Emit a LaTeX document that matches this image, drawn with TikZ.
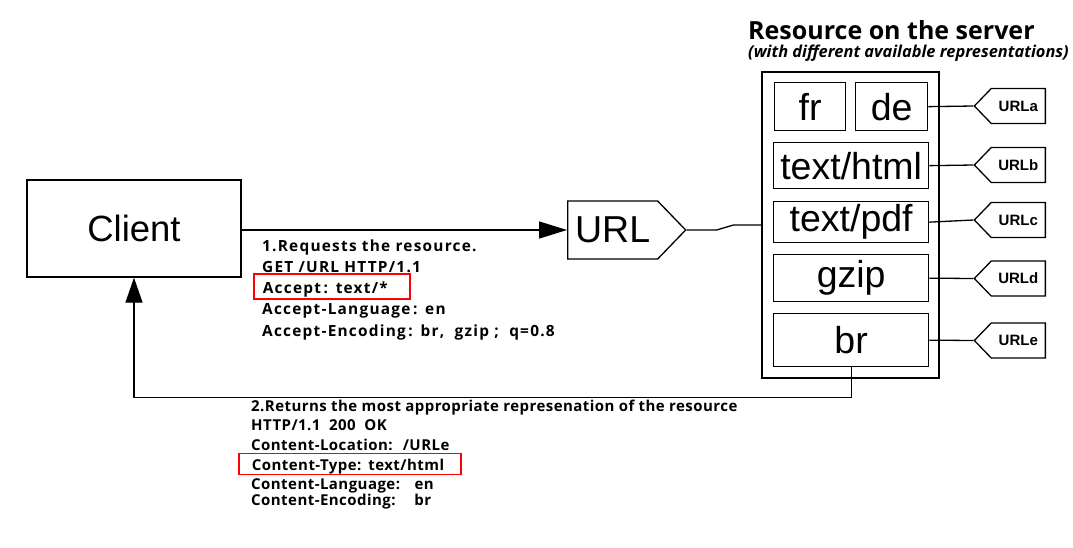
\documentclass[tikz,border=0pt]{standalone}
\usepackage{fontspec}
\setmainfont{Liberation Sans}
\newfontfamily\osfont{Open Sans}
\newfontfamily\reqfont[LetterSpace=8]{Open Sans}
\newfontfamily\resfont[LetterSpace=3]{Open Sans}
\usetikzlibrary{positioning,shapes.symbols,arrows.meta}

\tikzset{
  box/.style={draw, line width=1.3pt, inner sep=0pt, font=\fontsize{37.5}{37.5}\selectfont},
  rep/.style={box, anchor=north west},
  sig/.style={draw, line width=1.3pt, inner sep=0pt, shape=signal, signal pointer angle=92},
  tag/.style={sig, signal to=west, anchor=east, minimum width=71pt, minimum height=35pt, font=\bfseries\fontsize{15}{15}\selectfont},
  msg/.style={anchor=base west, inner sep=0pt, font=\resfont\bfseries\fontsize{15}{15}\selectfont},
  req/.style={msg, font=\reqfont\bfseries\fontsize{15.4}{15.4}\selectfont},
  hilite/.style={draw=red, line width=1.8pt, text depth=0pt},
  wire/.style={line width=1.3pt},
}

\begin{document}
\begin{tikzpicture}[x=1pt,y=-1pt]
  \useasboundingbox (0,0) rectangle (1073,547);

  % title
  \node[anchor=base west, inner sep=0pt, font=\osfont\bfseries\fontsize{25}{25}\selectfont] (title) at (748,39) {Resource on the server};
  \node[anchor=base west, inner sep=0pt, font=\osfont\bfseries\itshape\fontsize{16.4}{16.4}\selectfont] (subtitle) at (748,57.5) {(with different available representations)};

  \node[box, minimum width=214pt, minimum height=97pt, font=\fontsize{36.5}{36.5}\selectfont] (client) at (134,228.5) {Client};
  \node[sig, signal to=east, anchor=west, minimum width=118pt, minimum height=58pt, font=\fontsize{37.5}{37.5}\selectfont] (url) at (567,230) {URL};

  % server and its representations
  \node[box, minimum width=177pt, minimum height=306pt] (srv) at (850.5,225) {};
  \node[rep, minimum width=71pt, minimum height=48pt] (fr) at (774,82) {fr};
  \node[rep, minimum width=72pt, minimum height=48pt] (de) at (855,82) {de};
  \node[rep, minimum width=155pt, minimum height=46pt] (html) at (773,142) {text/html};
  \node[rep, minimum width=155pt, minimum height=41pt] (pdf) at (773,201) {text/pdf};
  \node[rep, minimum width=155pt, minimum height=47pt] (gzip) at (773,254) {gzip};
  \node[rep, minimum width=155pt, minimum height=53pt] (br) at (773,313) {br};

  \node[tag] (urla) at (1046,106) {URLa};
  \node[tag] (urlb) at (1046,165) {URLb};
  \node[tag] (urlc) at (1046,220) {URLc};
  \node[tag] (urld) at (1046,278.5) {URLd};
  \node[tag] (urle) at (1046,340.5) {URLe};

  \draw[wire] (de.east) -- (urla.west);
  \draw[wire] (html.east) -- (urlb.west);
  \draw[wire] (pdf.east) -- (urlc.west);
  \draw[wire] (gzip.east) -- (urld.west);
  \draw[wire] (br.east) -- (urle.west);

  % request
  \draw[wire, -{Triangle[length=28pt,width=17pt]}] (client.east |- url.west) -- (url.west);
  \draw[wire] (url.east) -- ++(30,0) -- ++(17,-5) -- (srv.west);

  \node[req] (req1) at (262,251) {1.Requests the resource.};
  \node[req] (req2) at (262,272) {GET /URL HTTP/1.1};
  \node[req, hilite, text height=13pt, inner xsep=9pt, inner ysep=6pt] (req3) at (253,293) {\makebox[138pt][l]{Accept\,:\ \,text/*}};
  \node[req] (req4) at (262,314) {Accept-Language\,:\ \,en};
  \node[req] (req5) at (262,336) {Accept-Encoding\,:\ \,br,\ \ gzip\ ;\ \ q=0.8};

  % response
  \draw[wire, -{Triangle[length=25pt,width=17pt]}] (br.south) -- ++(0,30) -| (client.south);

  \node[msg] (res1) at (251,411) {2.Returns the most appropriate represenation of the resource};
  \node[msg] (res2) at (251,430) {HTTP/1.1~ 200~ OK};
  \node[msg] (res3) at (251,450) {Content-Location:~ /URLe};
  \node[msg, hilite, text height=12pt, inner xsep=13pt, inner ysep=4.5pt] (res4) at (238,470) {\makebox[196pt][l]{Content-Type:\ \,text/html}};
  \node[msg] (res5) at (251,489) {Content-Language:~~ en};
  \node[msg] (res6) at (251,505) {Content-Encoding:~~~ br};
\end{tikzpicture}
\end{document}
